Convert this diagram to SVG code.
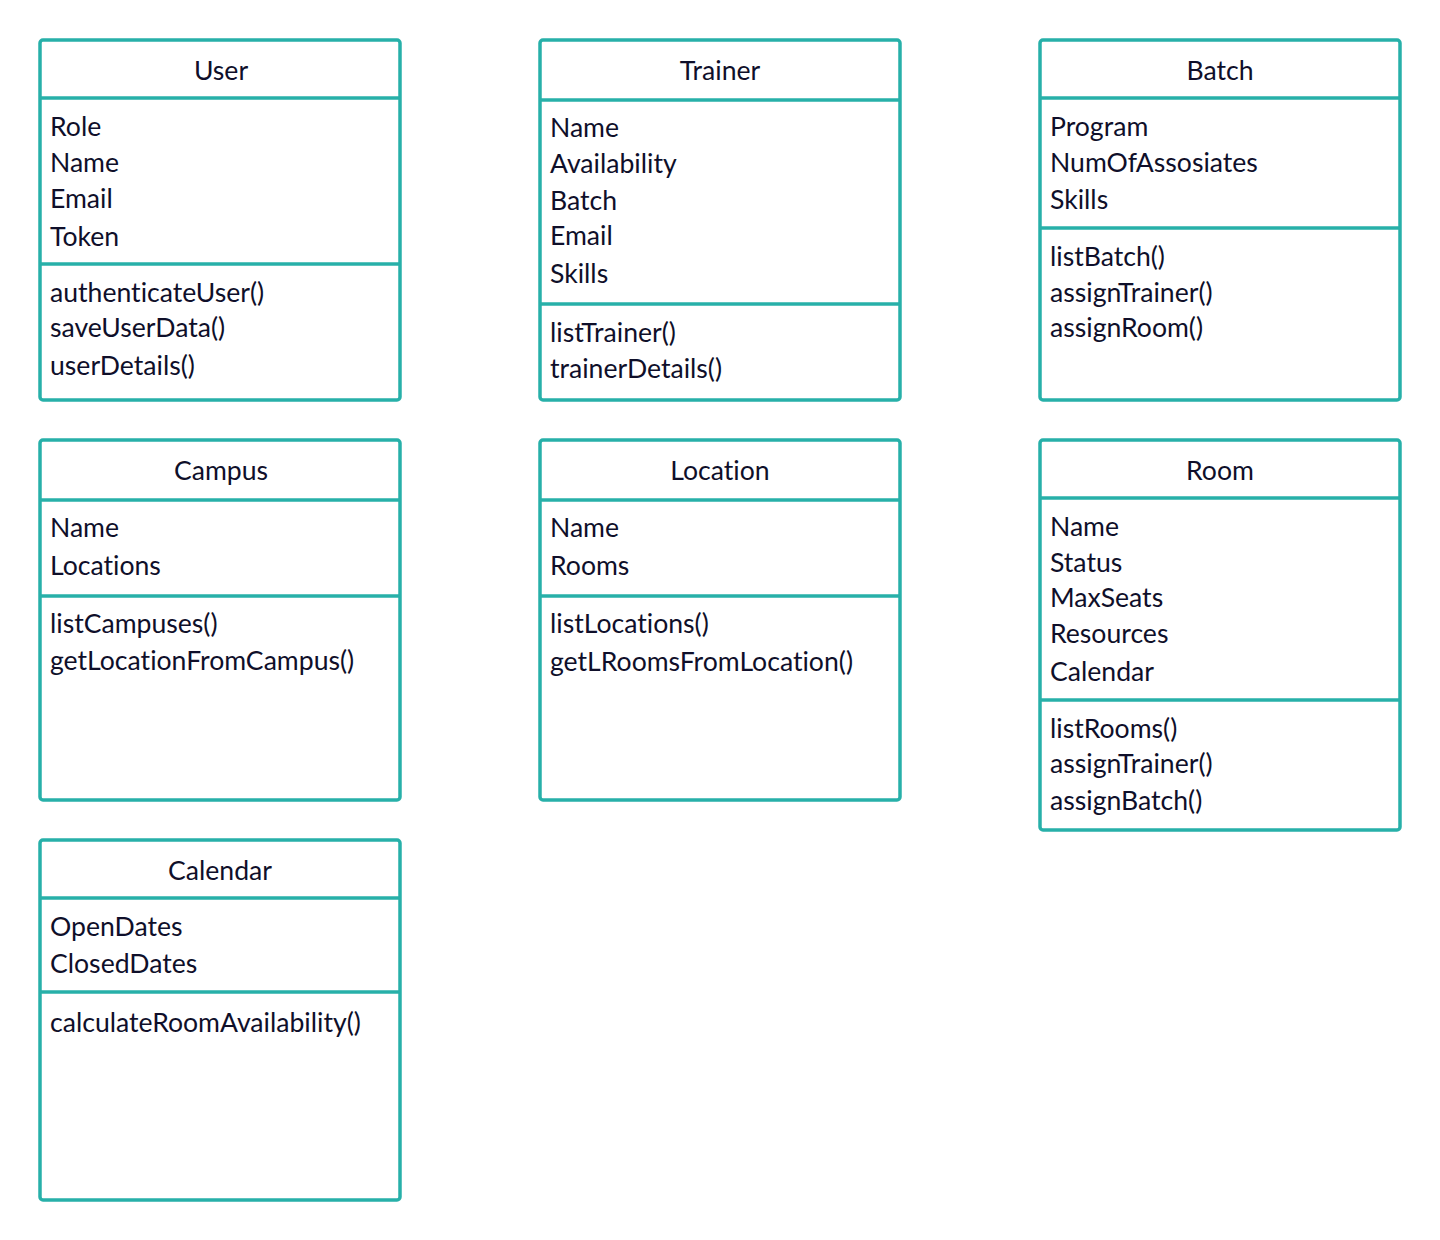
<svg xmlns="http://www.w3.org/2000/svg" width="1440" height="1240" viewBox="0 0 1440 1240">
<style>
.box{fill:#fff;stroke:#27b0a9;stroke-width:3.5}
.ln{stroke:#27b0a9;stroke-width:3.5;fill:none}
text{font-family:Lato,"Noto Sans","Liberation Sans",sans-serif;font-size:26.6px;fill:#0f0f2a;font-variant-ligatures:none;font-feature-settings:"liga" 0}
.t{text-anchor:middle}
</style>
<rect width="1440" height="1240" fill="#fff"/>
<g id="User">
<rect class="box" x="40" y="40" width="360" height="360" rx="3"/>
<line class="ln" x1="40" y1="98" x2="400" y2="98"/>
<line class="ln" x1="40" y1="264" x2="400" y2="264"/>
<text class="t" x="221" y="80">User</text>
<text x="50" y="136">Role</text>
<text x="50" y="172">Name</text>
<text x="50" y="208">Email</text>
<text x="50" y="246">Token</text>
<text x="50" y="302">authenticateUser()</text>
<text x="50" y="337">saveUserData()</text>
<text x="50" y="375">userDetails()</text>
</g>
<g id="Trainer">
<rect class="box" x="540" y="40" width="360" height="360" rx="3"/>
<line class="ln" x1="540" y1="100" x2="900" y2="100"/>
<line class="ln" x1="540" y1="304" x2="900" y2="304"/>
<text class="t" x="720" y="80">Trainer</text>
<text x="550" y="137">Name</text>
<text x="550" y="173">Availability</text>
<text x="550" y="210">Batch</text>
<text x="550" y="245">Email</text>
<text x="550" y="283">Skills</text>
<text x="550" y="342">listTrainer()</text>
<text x="550" y="378">trainerDetails()</text>
</g>
<g id="Batch">
<rect class="box" x="1040" y="40" width="360" height="360" rx="3"/>
<line class="ln" x1="1040" y1="98" x2="1400" y2="98"/>
<line class="ln" x1="1040" y1="228" x2="1400" y2="228"/>
<text class="t" x="1220" y="80">Batch</text>
<text x="1050" y="136">Program</text>
<text x="1050" y="172">NumOfAssosiates</text>
<text x="1050" y="209">Skills</text>
<text x="1050" y="266">listBatch()</text>
<text x="1050" y="302">assignTrainer()</text>
<text x="1050" y="337">assignRoom()</text>
</g>
<g id="Campus">
<rect class="box" x="40" y="440" width="360" height="360" rx="3"/>
<line class="ln" x1="40" y1="500" x2="400" y2="500"/>
<line class="ln" x1="40" y1="596" x2="400" y2="596"/>
<text class="t" x="221" y="480">Campus</text>
<text x="50" y="537">Name</text>
<text x="50" y="575">Locations</text>
<text x="50" y="633">listCampuses()</text>
<text x="50" y="670">getLocationFromCampus()</text>
</g>
<g id="Location">
<rect class="box" x="540" y="440" width="360" height="360" rx="3"/>
<line class="ln" x1="540" y1="500" x2="900" y2="500"/>
<line class="ln" x1="540" y1="596" x2="900" y2="596"/>
<text class="t" x="720" y="480">Location</text>
<text x="550" y="537">Name</text>
<text x="550" y="575">Rooms</text>
<text x="550" y="633">listLocations()</text>
<text x="550" y="671">getLRoomsFromLocation()</text>
</g>
<g id="Room">
<rect class="box" x="1040" y="440" width="360" height="390" rx="3"/>
<line class="ln" x1="1040" y1="498" x2="1400" y2="498"/>
<line class="ln" x1="1040" y1="700" x2="1400" y2="700"/>
<text class="t" x="1220" y="480">Room</text>
<text x="1050" y="536">Name</text>
<text x="1050" y="572">Status</text>
<text x="1050" y="607">MaxSeats</text>
<text x="1050" y="643">Resources</text>
<text x="1050" y="681">Calendar</text>
<text x="1050" y="738">listRooms()</text>
<text x="1050" y="773">assignTrainer()</text>
<text x="1050" y="810">assignBatch()</text>
</g>
<g id="Calendar">
<rect class="box" x="40" y="840" width="360" height="360" rx="3"/>
<line class="ln" x1="40" y1="898" x2="400" y2="898"/>
<line class="ln" x1="40" y1="992" x2="400" y2="992"/>
<text class="t" x="220" y="880">Calendar</text>
<text x="50" y="936">OpenDates</text>
<text x="50" y="973">ClosedDates</text>
<text x="50" y="1032">calculateRoomAvailability()</text>
</g>
<g id="connectors"/>
</svg>
